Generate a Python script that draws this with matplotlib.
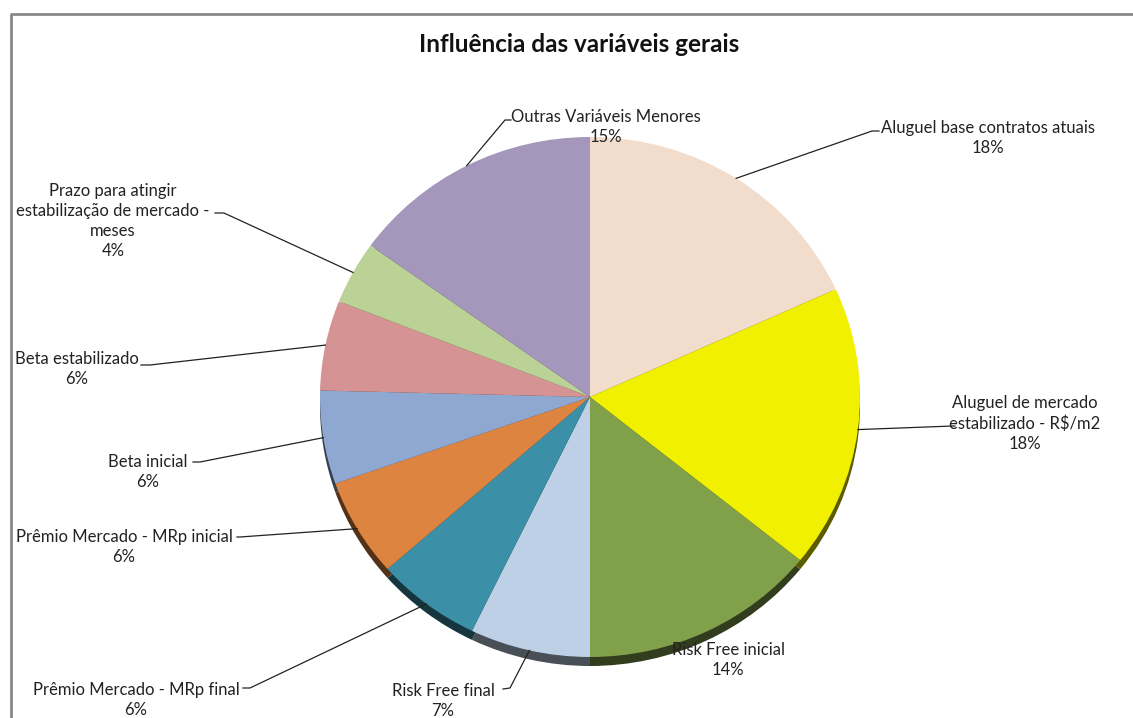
import numpy as np
import matplotlib
matplotlib.use("Agg")
import matplotlib.pyplot as plt
from matplotlib.transforms import Affine2D
import matplotlib.colors as mcolors

# chart data (share of influence, %)
categories = [
    "Aluguel base contratos atuais",
    "Aluguel de mercado\nestabilizado - R$/m2",
    "Risk Free inicial",
    "Risk Free final",
    "Prêmio Mercado - MRp final",
    "Prêmio Mercado - MRp inicial",
    "Beta inicial",
    "Beta estabilizado",
    "Prazo para atingir\nestabilização de mercado -\nmeses",
    "Outras Variáveis Menores",
]
values = [18.2, 17.6, 14.2, 7.2, 6.3, 6.1, 5.8, 5.6, 3.9, 15.1]
colors = ["#F2DDCC", "#F0F000", "#80A04A", "#BDD0E6", "#3B8FA6",
          "#DC8440", "#8FA8D1", "#D59493", "#BBD297", "#A597BC"]
title = "Influência das variáveis gerais"

# layout (image pixels, y measured from the top)
W, H = 1133, 718
cx, cy = 590, 397
rx, ry = 270, 260
line_h = 21.5
# label centre x, centre y of first line
label_pos = [
    (988, 127), (1025, 402), (728, 649), (443, 690), (136, 689),
    (124, 536), (148, 461), (77, 358), (113, 189), (606, 116),
]
# leader elbow and end points
leaders = [
    [(872, 131), (879, 131)],
    [(953, 426), (955, 426)],
    None,
    [(510, 688), (503, 689)],
    [(250, 688), (243, 688)],
    [(240, 537), (237, 537)],
    [(200, 462), (193, 462)],
    [(150, 365), (141, 365)],
    [(224, 213), (215, 213)],
    [(505, 120), (511, 120)],
]

plt.rcParams['font.family'] = ['Lato', 'DejaVu Sans']
fig = plt.figure(figsize=(W / 100, H / 100), dpi=100)
ax = fig.add_axes([0, 0, 1, 1])


def fy(y):
    return H - y


def squash(y0):
    return Affine2D().translate(-cx, -y0).scale(1, ry / rx).translate(cx, y0)


# darker rim underneath for the 3D look
dark = [tuple(np.array(mcolors.to_rgb(c)) * 0.38) for c in colors]
shadow, _ = ax.pie(values, colors=dark, startangle=90, counterclock=False,
                   radius=rx, center=(cx, fy(cy) - 9), frame=True,
                   wedgeprops=dict(linewidth=0))
for w in shadow:
    w.set_transform(squash(fy(cy) - 9) + ax.transData)
    w.set_zorder(1)

wedges, _ = ax.pie(values, colors=colors, startangle=90, counterclock=False,
                   radius=rx, center=(cx, fy(cy)), frame=True,
                   wedgeprops=dict(linewidth=0))
for w in wedges:
    w.set_transform(squash(fy(cy)) + ax.transData)
    w.set_zorder(2)

ax.set_xlim(0, W)
ax.set_ylim(0, H)
ax.set_aspect("auto")
ax.axis("off")

# labels and leader lines
for i, (name, v) in enumerate(zip(categories, values)):
    lx, ly = label_pos[i]
    text = name + "\n" + f"{v:.0f}%"
    n = text.count("\n") + 1
    ax.text(lx, fy(ly + (n - 1) * line_h / 2), text, ha="center", va="center",
            fontsize=12, color="#222222", linespacing=1.3, zorder=5)
    if leaders[i] is None:
        continue
    w = wedges[i]
    mid = np.deg2rad((w.theta1 + w.theta2) / 2)
    ex = cx + rx * np.cos(mid)
    ey = fy(cy) + ry * np.sin(mid)
    xs = [ex] + [p[0] for p in leaders[i]]
    ys = [ey] + [fy(p[1]) for p in leaders[i]]
    ax.plot(xs, ys, color="#222222", lw=0.9, zorder=4)

fig.text(579 / W, 1 - 45 / H, title, ha="center", va="center",
         fontsize=17.5, fontweight="bold", color="#111111")

# chart frame
ax.plot([11, 11, W + 5], [-5, fy(14), fy(14)], color="#888888", lw=2,
        zorder=6, clip_on=False)

fig.savefig("out.png", dpi=100)
